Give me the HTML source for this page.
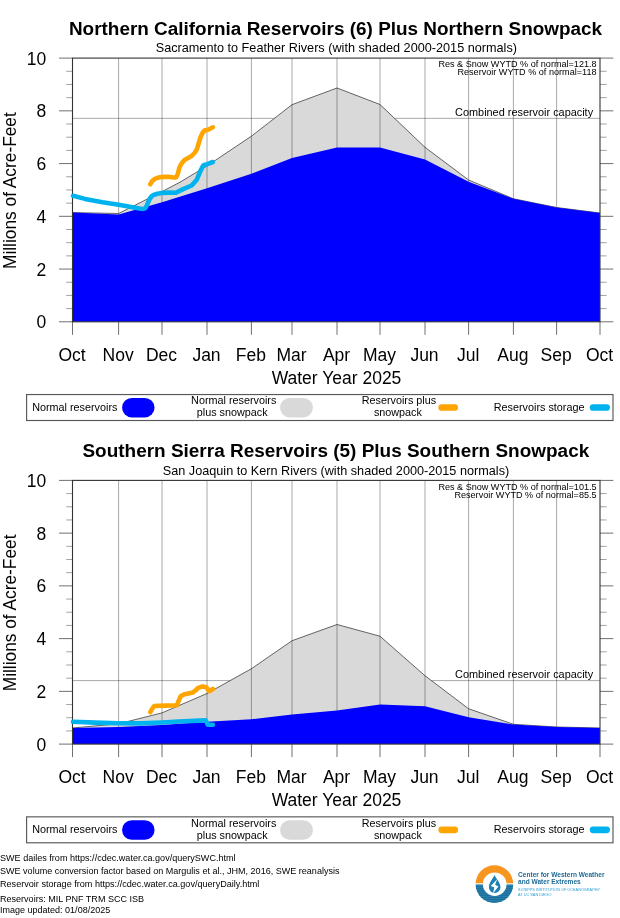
<!DOCTYPE html>
<html><head><meta charset="utf-8"><title>Reservoirs plus snowpack</title>
<style>
html,body{margin:0;padding:0;background:#fff;}
svg{display:block;}
text{font-family:"Liberation Sans",Arial,Helvetica,sans-serif;fill:#000;}
.big{font-size:17.5px;}
.ylab{font-size:18.3px;}
.title{font-size:17.5px;font-weight:bold;}
.sub{font-size:12.6px;}
.ann{font-size:8.8px;}
.cap{font-size:10.9px;}
.lg{font-size:10.8px;}
.ft{font-size:9.1px;}
.lg1{font-size:6.8px;font-weight:bold;fill:#1f6a94;}
.lg2{font-size:3.4px;fill:#2a9cd6;}
.grid{stroke:#000;stroke-opacity:0.34;stroke-width:1;}
.tk{stroke:#707070;stroke-width:1;}
.tkm{stroke:#8c8c8c;stroke-width:0.8;}
.ln{fill:none;stroke-width:4.6;stroke-linecap:round;stroke-linejoin:round;}
</style></head><body>
<svg width="620" height="918" viewBox="0 0 620 918">
<rect width="620" height="918" fill="#fff"/>
<g transform="translate(0,0)">
<line x1="72.5" x2="600.0" y1="118.35" y2="118.35" class="grid"/>
<polygon points="72.50,212.60 118.60,213.50 162.00,191.60 180.00,182.20 207.00,165.90 251.40,136.20 292.00,104.70 337.00,88.00 380.00,104.50 425.00,147.30 468.60,180.00 513.40,198.75 556.60,207.50 600.00,213.00 600.00,321.80 72.50,321.80" fill="#d9d9d9"/>
<polyline points="72.50,212.60 118.60,213.50 162.00,191.60 180.00,182.20 207.00,165.90 251.40,136.20 292.00,104.70 337.00,88.00 380.00,104.50 425.00,147.30 468.60,180.00 513.40,198.75 556.60,207.50 600.00,213.00" fill="none" stroke="#4a4a4a" stroke-width="0.85"/>
<line x1="118.6" x2="118.6" y1="58.1" y2="321.8" class="grid"/>
<line x1="162.0" x2="162.0" y1="58.1" y2="321.8" class="grid"/>
<line x1="207.0" x2="207.0" y1="58.1" y2="321.8" class="grid"/>
<line x1="251.4" x2="251.4" y1="58.1" y2="321.8" class="grid"/>
<line x1="292.0" x2="292.0" y1="58.1" y2="321.8" class="grid"/>
<line x1="337.0" x2="337.0" y1="58.1" y2="321.8" class="grid"/>
<line x1="380.0" x2="380.0" y1="58.1" y2="321.8" class="grid"/>
<line x1="425.0" x2="425.0" y1="58.1" y2="321.8" class="grid"/>
<line x1="468.6" x2="468.6" y1="58.1" y2="321.8" class="grid"/>
<line x1="513.4" x2="513.4" y1="58.1" y2="321.8" class="grid"/>
<line x1="556.6" x2="556.6" y1="58.1" y2="321.8" class="grid"/>
<polygon points="72.50,212.50 118.60,214.50 162.00,202.30 207.00,188.30 251.40,173.75 292.00,158.00 337.00,147.50 380.00,147.50 425.00,159.50 468.60,181.75 513.40,198.75 556.60,207.50 600.00,213.00 600.00,321.80 72.50,321.80" fill="#0000ff"/>
<line x1="59" x2="72.5" y1="321.80" y2="321.80" class="tk"/><line x1="600.0" x2="613.3" y1="321.80" y2="321.80" class="tk"/>
<line x1="66.2" x2="72.5" y1="308.62" y2="308.62" class="tkm"/><line x1="600.0" x2="606.6" y1="308.62" y2="308.62" class="tkm"/>
<line x1="66.2" x2="72.5" y1="295.43" y2="295.43" class="tkm"/><line x1="600.0" x2="606.6" y1="295.43" y2="295.43" class="tkm"/>
<line x1="66.2" x2="72.5" y1="282.25" y2="282.25" class="tkm"/><line x1="600.0" x2="606.6" y1="282.25" y2="282.25" class="tkm"/>
<line x1="59" x2="72.5" y1="269.06" y2="269.06" class="tk"/><line x1="600.0" x2="613.3" y1="269.06" y2="269.06" class="tk"/>
<line x1="66.2" x2="72.5" y1="255.88" y2="255.88" class="tkm"/><line x1="600.0" x2="606.6" y1="255.88" y2="255.88" class="tkm"/>
<line x1="66.2" x2="72.5" y1="242.69" y2="242.69" class="tkm"/><line x1="600.0" x2="606.6" y1="242.69" y2="242.69" class="tkm"/>
<line x1="66.2" x2="72.5" y1="229.51" y2="229.51" class="tkm"/><line x1="600.0" x2="606.6" y1="229.51" y2="229.51" class="tkm"/>
<line x1="59" x2="72.5" y1="216.32" y2="216.32" class="tk"/><line x1="600.0" x2="613.3" y1="216.32" y2="216.32" class="tk"/>
<line x1="66.2" x2="72.5" y1="203.14" y2="203.14" class="tkm"/><line x1="600.0" x2="606.6" y1="203.14" y2="203.14" class="tkm"/>
<line x1="66.2" x2="72.5" y1="189.95" y2="189.95" class="tkm"/><line x1="600.0" x2="606.6" y1="189.95" y2="189.95" class="tkm"/>
<line x1="66.2" x2="72.5" y1="176.77" y2="176.77" class="tkm"/><line x1="600.0" x2="606.6" y1="176.77" y2="176.77" class="tkm"/>
<line x1="59" x2="72.5" y1="163.58" y2="163.58" class="tk"/><line x1="600.0" x2="613.3" y1="163.58" y2="163.58" class="tk"/>
<line x1="66.2" x2="72.5" y1="150.40" y2="150.40" class="tkm"/><line x1="600.0" x2="606.6" y1="150.40" y2="150.40" class="tkm"/>
<line x1="66.2" x2="72.5" y1="137.21" y2="137.21" class="tkm"/><line x1="600.0" x2="606.6" y1="137.21" y2="137.21" class="tkm"/>
<line x1="66.2" x2="72.5" y1="124.03" y2="124.03" class="tkm"/><line x1="600.0" x2="606.6" y1="124.03" y2="124.03" class="tkm"/>
<line x1="59" x2="72.5" y1="110.84" y2="110.84" class="tk"/><line x1="600.0" x2="613.3" y1="110.84" y2="110.84" class="tk"/>
<line x1="66.2" x2="72.5" y1="97.66" y2="97.66" class="tkm"/><line x1="600.0" x2="606.6" y1="97.66" y2="97.66" class="tkm"/>
<line x1="66.2" x2="72.5" y1="84.47" y2="84.47" class="tkm"/><line x1="600.0" x2="606.6" y1="84.47" y2="84.47" class="tkm"/>
<line x1="66.2" x2="72.5" y1="71.29" y2="71.29" class="tkm"/><line x1="600.0" x2="606.6" y1="71.29" y2="71.29" class="tkm"/>
<line x1="59" x2="72.5" y1="58.10" y2="58.10" class="tk"/><line x1="600.0" x2="613.3" y1="58.10" y2="58.10" class="tk"/>
<line x1="72.5" x2="72.5" y1="321.8" y2="334.8" class="tk"/>
<line x1="118.6" x2="118.6" y1="321.8" y2="334.8" class="tk"/>
<line x1="162.0" x2="162.0" y1="321.8" y2="334.8" class="tk"/>
<line x1="207.0" x2="207.0" y1="321.8" y2="334.8" class="tk"/>
<line x1="251.4" x2="251.4" y1="321.8" y2="334.8" class="tk"/>
<line x1="292.0" x2="292.0" y1="321.8" y2="334.8" class="tk"/>
<line x1="337.0" x2="337.0" y1="321.8" y2="334.8" class="tk"/>
<line x1="380.0" x2="380.0" y1="321.8" y2="334.8" class="tk"/>
<line x1="425.0" x2="425.0" y1="321.8" y2="334.8" class="tk"/>
<line x1="468.6" x2="468.6" y1="321.8" y2="334.8" class="tk"/>
<line x1="513.4" x2="513.4" y1="321.8" y2="334.8" class="tk"/>
<line x1="556.6" x2="556.6" y1="321.8" y2="334.8" class="tk"/>
<line x1="600.0" x2="600.0" y1="321.8" y2="334.8" class="tk"/>
<rect x="72.5" y="58.1" width="527.50" height="263.70" fill="none" stroke="#333333" stroke-width="1.1"/>
<polyline points="150.20,184.20 152.30,180.90 155.20,178.60 159.70,177.30 164.00,176.90 168.70,176.70 173.20,177.50 176.00,177.40 177.70,174.30 179.40,167.50 181.50,163.50 184.50,160.00 191.60,156.00 194.50,153.00 196.80,149.50 198.80,143.00 200.60,137.00 202.50,133.00 204.50,130.50 208.00,129.80 212.90,127.30" class="ln" stroke="#ffa500"/>
<polyline points="73.00,195.75 85.00,198.90 102.50,202.30 118.75,204.70 132.60,207.20 139.40,208.50 143.30,209.00 145.50,208.00 147.00,205.00 148.40,201.80 150.00,198.50 151.80,196.10 154.50,194.60 157.40,193.70 162.00,193.00 168.70,192.60 175.50,192.80 178.00,191.70 182.60,189.40 191.60,185.50 196.80,179.70 200.60,170.60 203.20,165.50 207.10,164.20 212.90,162.00" class="ln" stroke="#00b2ee"/>
<text x="46.3" y="328.40" class="big" text-anchor="end">0</text>
<text x="46.3" y="275.66" class="big" text-anchor="end">2</text>
<text x="46.3" y="222.92" class="big" text-anchor="end">4</text>
<text x="46.3" y="170.18" class="big" text-anchor="end">6</text>
<text x="46.3" y="117.44" class="big" text-anchor="end">8</text>
<text x="46.3" y="64.70" class="big" text-anchor="end">10</text>
<text x="72.0" y="361.1" class="big" text-anchor="middle">Oct</text>
<text x="118.1" y="361.1" class="big" text-anchor="middle">Nov</text>
<text x="161.5" y="361.1" class="big" text-anchor="middle">Dec</text>
<text x="206.5" y="361.1" class="big" text-anchor="middle">Jan</text>
<text x="250.9" y="361.1" class="big" text-anchor="middle">Feb</text>
<text x="291.5" y="361.1" class="big" text-anchor="middle">Mar</text>
<text x="336.5" y="361.1" class="big" text-anchor="middle">Apr</text>
<text x="379.5" y="361.1" class="big" text-anchor="middle">May</text>
<text x="424.5" y="361.1" class="big" text-anchor="middle">Jun</text>
<text x="468.1" y="361.1" class="big" text-anchor="middle">Jul</text>
<text x="512.9" y="361.1" class="big" text-anchor="middle">Aug</text>
<text x="556.1" y="361.1" class="big" text-anchor="middle">Sep</text>
<text x="599.5" y="361.1" class="big" text-anchor="middle">Oct</text>
<text x="336.5" y="383.6" class="big" text-anchor="middle">Water Year 2025</text>
<text transform="translate(16.1,190.6) rotate(-90)" class="ylab" text-anchor="middle" textLength="156.8" lengthAdjust="spacingAndGlyphs">Millions of Acre-Feet</text>
<text x="335.55" y="34.9" class="title" text-anchor="middle" textLength="533.2" lengthAdjust="spacingAndGlyphs">Northern California Reservoirs (6) Plus Northern Snowpack</text>
<text x="336.35" y="52.4" class="sub" text-anchor="middle" textLength="361.3" lengthAdjust="spacingAndGlyphs">Sacramento to Feather Rivers (with shaded 2000-2015 normals)</text>
<text x="596.6" y="67.3" class="ann" text-anchor="end" textLength="158.2" lengthAdjust="spacingAndGlyphs">Res &amp; Snow WYTD % of normal=121.8</text>
<text x="596.6" y="75.4" class="ann" text-anchor="end" textLength="139.2" lengthAdjust="spacingAndGlyphs">Reservoir WYTD % of normal=118</text>
<text x="524.1" y="115.8" class="cap" text-anchor="middle" textLength="138" lengthAdjust="spacingAndGlyphs">Combined reservoir capacity</text>
<rect x="26.6" y="394.55" width="586.4" height="25.95" fill="#fff" stroke="#585858" stroke-width="1.15"/>
<text x="32.2" y="411" class="lg">Normal reservoirs</text>
<line x1="131.8" x2="144.8" y1="407.7" y2="407.7" stroke="#0000ff" stroke-width="19.5" stroke-linecap="round"/>
<text x="233.7" y="404.3" class="lg" text-anchor="middle">Normal reservoirs</text>
<text x="232.2" y="416.3" class="lg" text-anchor="middle">plus snowpack</text>
<line x1="289.8" x2="303.2" y1="407.7" y2="407.7" stroke="#d9d9d9" stroke-width="19.5" stroke-linecap="round"/>
<text x="398.9" y="404.3" class="lg" text-anchor="middle">Reservoirs plus</text>
<text x="397.9" y="416.3" class="lg" text-anchor="middle">snowpack</text>
<line x1="441.7" x2="454.7" y1="407.5" y2="407.5" stroke="#ffa500" stroke-width="6.7" stroke-linecap="round"/>
<text x="493.8" y="410.8" class="lg">Reservoirs storage</text>
<line x1="593.1" x2="606.6" y1="407.5" y2="407.5" stroke="#00b2ee" stroke-width="6.7" stroke-linecap="round"/>
</g>
<g transform="translate(0,422.3)">
<line x1="72.5" x2="600.0" y1="258.3" y2="258.3" class="grid"/>
<polygon points="72.50,305.70 118.60,301.50 162.00,290.60 207.00,271.20 251.40,246.45 292.00,218.45 337.00,202.20 380.00,213.95 425.00,253.45 468.60,286.45 513.40,302.00 556.60,304.70 600.00,305.70 600.00,321.80 72.50,321.80" fill="#d9d9d9"/>
<polyline points="72.50,305.70 118.60,301.50 162.00,290.60 207.00,271.20 251.40,246.45 292.00,218.45 337.00,202.20 380.00,213.95 425.00,253.45 468.60,286.45 513.40,302.00 556.60,304.70 600.00,305.70" fill="none" stroke="#4a4a4a" stroke-width="0.85"/>
<line x1="118.6" x2="118.6" y1="58.1" y2="321.8" class="grid"/>
<line x1="162.0" x2="162.0" y1="58.1" y2="321.8" class="grid"/>
<line x1="207.0" x2="207.0" y1="58.1" y2="321.8" class="grid"/>
<line x1="251.4" x2="251.4" y1="58.1" y2="321.8" class="grid"/>
<line x1="292.0" x2="292.0" y1="58.1" y2="321.8" class="grid"/>
<line x1="337.0" x2="337.0" y1="58.1" y2="321.8" class="grid"/>
<line x1="380.0" x2="380.0" y1="58.1" y2="321.8" class="grid"/>
<line x1="425.0" x2="425.0" y1="58.1" y2="321.8" class="grid"/>
<line x1="468.6" x2="468.6" y1="58.1" y2="321.8" class="grid"/>
<line x1="513.4" x2="513.4" y1="58.1" y2="321.8" class="grid"/>
<line x1="556.6" x2="556.6" y1="58.1" y2="321.8" class="grid"/>
<polygon points="72.50,305.70 118.60,304.70 162.00,302.70 207.00,299.45 251.40,296.95 292.00,292.20 337.00,288.20 380.00,282.20 425.00,283.95 468.60,295.00 513.40,302.30 556.60,304.70 600.00,305.70 600.00,321.80 72.50,321.80" fill="#0000ff"/>
<line x1="59" x2="72.5" y1="321.80" y2="321.80" class="tk"/><line x1="600.0" x2="613.3" y1="321.80" y2="321.80" class="tk"/>
<line x1="66.2" x2="72.5" y1="308.62" y2="308.62" class="tkm"/><line x1="600.0" x2="606.6" y1="308.62" y2="308.62" class="tkm"/>
<line x1="66.2" x2="72.5" y1="295.43" y2="295.43" class="tkm"/><line x1="600.0" x2="606.6" y1="295.43" y2="295.43" class="tkm"/>
<line x1="66.2" x2="72.5" y1="282.25" y2="282.25" class="tkm"/><line x1="600.0" x2="606.6" y1="282.25" y2="282.25" class="tkm"/>
<line x1="59" x2="72.5" y1="269.06" y2="269.06" class="tk"/><line x1="600.0" x2="613.3" y1="269.06" y2="269.06" class="tk"/>
<line x1="66.2" x2="72.5" y1="255.88" y2="255.88" class="tkm"/><line x1="600.0" x2="606.6" y1="255.88" y2="255.88" class="tkm"/>
<line x1="66.2" x2="72.5" y1="242.69" y2="242.69" class="tkm"/><line x1="600.0" x2="606.6" y1="242.69" y2="242.69" class="tkm"/>
<line x1="66.2" x2="72.5" y1="229.51" y2="229.51" class="tkm"/><line x1="600.0" x2="606.6" y1="229.51" y2="229.51" class="tkm"/>
<line x1="59" x2="72.5" y1="216.32" y2="216.32" class="tk"/><line x1="600.0" x2="613.3" y1="216.32" y2="216.32" class="tk"/>
<line x1="66.2" x2="72.5" y1="203.14" y2="203.14" class="tkm"/><line x1="600.0" x2="606.6" y1="203.14" y2="203.14" class="tkm"/>
<line x1="66.2" x2="72.5" y1="189.95" y2="189.95" class="tkm"/><line x1="600.0" x2="606.6" y1="189.95" y2="189.95" class="tkm"/>
<line x1="66.2" x2="72.5" y1="176.77" y2="176.77" class="tkm"/><line x1="600.0" x2="606.6" y1="176.77" y2="176.77" class="tkm"/>
<line x1="59" x2="72.5" y1="163.58" y2="163.58" class="tk"/><line x1="600.0" x2="613.3" y1="163.58" y2="163.58" class="tk"/>
<line x1="66.2" x2="72.5" y1="150.40" y2="150.40" class="tkm"/><line x1="600.0" x2="606.6" y1="150.40" y2="150.40" class="tkm"/>
<line x1="66.2" x2="72.5" y1="137.21" y2="137.21" class="tkm"/><line x1="600.0" x2="606.6" y1="137.21" y2="137.21" class="tkm"/>
<line x1="66.2" x2="72.5" y1="124.03" y2="124.03" class="tkm"/><line x1="600.0" x2="606.6" y1="124.03" y2="124.03" class="tkm"/>
<line x1="59" x2="72.5" y1="110.84" y2="110.84" class="tk"/><line x1="600.0" x2="613.3" y1="110.84" y2="110.84" class="tk"/>
<line x1="66.2" x2="72.5" y1="97.66" y2="97.66" class="tkm"/><line x1="600.0" x2="606.6" y1="97.66" y2="97.66" class="tkm"/>
<line x1="66.2" x2="72.5" y1="84.47" y2="84.47" class="tkm"/><line x1="600.0" x2="606.6" y1="84.47" y2="84.47" class="tkm"/>
<line x1="66.2" x2="72.5" y1="71.29" y2="71.29" class="tkm"/><line x1="600.0" x2="606.6" y1="71.29" y2="71.29" class="tkm"/>
<line x1="59" x2="72.5" y1="58.10" y2="58.10" class="tk"/><line x1="600.0" x2="613.3" y1="58.10" y2="58.10" class="tk"/>
<line x1="72.5" x2="72.5" y1="321.8" y2="334.8" class="tk"/>
<line x1="118.6" x2="118.6" y1="321.8" y2="334.8" class="tk"/>
<line x1="162.0" x2="162.0" y1="321.8" y2="334.8" class="tk"/>
<line x1="207.0" x2="207.0" y1="321.8" y2="334.8" class="tk"/>
<line x1="251.4" x2="251.4" y1="321.8" y2="334.8" class="tk"/>
<line x1="292.0" x2="292.0" y1="321.8" y2="334.8" class="tk"/>
<line x1="337.0" x2="337.0" y1="321.8" y2="334.8" class="tk"/>
<line x1="380.0" x2="380.0" y1="321.8" y2="334.8" class="tk"/>
<line x1="425.0" x2="425.0" y1="321.8" y2="334.8" class="tk"/>
<line x1="468.6" x2="468.6" y1="321.8" y2="334.8" class="tk"/>
<line x1="513.4" x2="513.4" y1="321.8" y2="334.8" class="tk"/>
<line x1="556.6" x2="556.6" y1="321.8" y2="334.8" class="tk"/>
<line x1="600.0" x2="600.0" y1="321.8" y2="334.8" class="tk"/>
<rect x="72.5" y="58.1" width="527.50" height="263.70" fill="none" stroke="#333333" stroke-width="1.1"/>
<polyline points="150.30,289.90 152.00,286.70 154.20,283.70 165.00,283.30 176.80,283.00 178.60,278.70 180.60,274.00 183.90,272.10 192.90,270.10 195.50,268.20 198.10,265.60 202.60,264.10 206.50,265.00 207.80,267.20 209.00,268.80 211.00,268.00 212.90,266.70" class="ln" stroke="#ffa500"/>
<polyline points="73.00,299.45 95.00,300.30 118.50,300.90 140.00,301.10 162.00,300.20 178.70,299.20 205.50,298.10 206.60,299.70 207.70,302.40 212.90,302.40" class="ln" stroke="#00b2ee"/>
<text x="46.3" y="328.40" class="big" text-anchor="end">0</text>
<text x="46.3" y="275.66" class="big" text-anchor="end">2</text>
<text x="46.3" y="222.92" class="big" text-anchor="end">4</text>
<text x="46.3" y="170.18" class="big" text-anchor="end">6</text>
<text x="46.3" y="117.44" class="big" text-anchor="end">8</text>
<text x="46.3" y="64.70" class="big" text-anchor="end">10</text>
<text x="72.0" y="361.1" class="big" text-anchor="middle">Oct</text>
<text x="118.1" y="361.1" class="big" text-anchor="middle">Nov</text>
<text x="161.5" y="361.1" class="big" text-anchor="middle">Dec</text>
<text x="206.5" y="361.1" class="big" text-anchor="middle">Jan</text>
<text x="250.9" y="361.1" class="big" text-anchor="middle">Feb</text>
<text x="291.5" y="361.1" class="big" text-anchor="middle">Mar</text>
<text x="336.5" y="361.1" class="big" text-anchor="middle">Apr</text>
<text x="379.5" y="361.1" class="big" text-anchor="middle">May</text>
<text x="424.5" y="361.1" class="big" text-anchor="middle">Jun</text>
<text x="468.1" y="361.1" class="big" text-anchor="middle">Jul</text>
<text x="512.9" y="361.1" class="big" text-anchor="middle">Aug</text>
<text x="556.1" y="361.1" class="big" text-anchor="middle">Sep</text>
<text x="599.5" y="361.1" class="big" text-anchor="middle">Oct</text>
<text x="336.5" y="383.6" class="big" text-anchor="middle">Water Year 2025</text>
<text transform="translate(16.1,190.6) rotate(-90)" class="ylab" text-anchor="middle" textLength="156.8" lengthAdjust="spacingAndGlyphs">Millions of Acre-Feet</text>
<text x="335.85" y="34.9" class="title" text-anchor="middle" textLength="506.8" lengthAdjust="spacingAndGlyphs">Southern Sierra Reservoirs (5) Plus Southern Snowpack</text>
<text x="336.0" y="52.4" class="sub" text-anchor="middle" textLength="346.4" lengthAdjust="spacingAndGlyphs">San Joaquin to Kern Rivers (with shaded 2000-2015 normals)</text>
<text x="596.6" y="67.3" class="ann" text-anchor="end" textLength="158.2" lengthAdjust="spacingAndGlyphs">Res &amp; Snow WYTD % of normal=101.5</text>
<text x="596.6" y="75.4" class="ann" text-anchor="end" textLength="142.2" lengthAdjust="spacingAndGlyphs">Reservoir WYTD % of normal=85.5</text>
<text x="524.1" y="255.99999999999994" class="cap" text-anchor="middle" textLength="138" lengthAdjust="spacingAndGlyphs">Combined reservoir capacity</text>
<rect x="26.6" y="394.55" width="586.4" height="25.95" fill="#fff" stroke="#585858" stroke-width="1.15"/>
<text x="32.2" y="411" class="lg">Normal reservoirs</text>
<line x1="131.8" x2="144.8" y1="407.7" y2="407.7" stroke="#0000ff" stroke-width="19.5" stroke-linecap="round"/>
<text x="233.7" y="404.3" class="lg" text-anchor="middle">Normal reservoirs</text>
<text x="232.2" y="416.3" class="lg" text-anchor="middle">plus snowpack</text>
<line x1="289.8" x2="303.2" y1="407.7" y2="407.7" stroke="#d9d9d9" stroke-width="19.5" stroke-linecap="round"/>
<text x="398.9" y="404.3" class="lg" text-anchor="middle">Reservoirs plus</text>
<text x="397.9" y="416.3" class="lg" text-anchor="middle">snowpack</text>
<line x1="441.7" x2="454.7" y1="407.5" y2="407.5" stroke="#ffa500" stroke-width="6.7" stroke-linecap="round"/>
<text x="493.8" y="410.8" class="lg">Reservoirs storage</text>
<line x1="593.1" x2="606.6" y1="407.5" y2="407.5" stroke="#00b2ee" stroke-width="6.7" stroke-linecap="round"/>
</g>
<text x="0" y="860.9" class="ft" textLength="235.6" lengthAdjust="spacingAndGlyphs">SWE dailes from https://cdec.water.ca.gov/querySWC.html</text>
<text x="0" y="873.8" class="ft" textLength="339.5" lengthAdjust="spacingAndGlyphs">SWE volume conversion factor based on Margulis et al., JHM, 2016, SWE reanalysis</text>
<text x="0" y="886.7" class="ft" textLength="259.4" lengthAdjust="spacingAndGlyphs">Reservoir storage from https://cdec.water.ca.gov/queryDaily.html</text>
<text x="0" y="901.9" class="ft" textLength="144.1" lengthAdjust="spacingAndGlyphs">Reservoirs: MIL PNF TRM SCC ISB</text>
<text x="0" y="913.2" class="ft" textLength="110.2" lengthAdjust="spacingAndGlyphs">Image updated: 01/08/2025</text>
<g>
<defs><clipPath id="lc"><circle cx="494.4" cy="884.1" r="18.8"/></clipPath></defs>
<g clip-path="url(#lc)">
<rect x="475" y="865" width="39" height="18.3" fill="#f7951f"/>
<rect x="475" y="884.4" width="39" height="19.5" fill="#2a84b2"/>
<rect x="475" y="886.20" width="39" height="1" fill="#1b6a94"/>
<rect x="475" y="888.33" width="39" height="1" fill="#1b6a94"/>
<rect x="475" y="890.46" width="39" height="1" fill="#1b6a94"/>
<rect x="475" y="892.59" width="39" height="1" fill="#1b6a94"/>
<rect x="475" y="894.72" width="39" height="1" fill="#1b6a94"/>
<rect x="475" y="896.85" width="39" height="1" fill="#1b6a94"/>
<rect x="475" y="898.98" width="39" height="1" fill="#1b6a94"/>
<rect x="475" y="901.11" width="39" height="1" fill="#1b6a94"/>
</g>
<circle cx="494.7" cy="884.2" r="11.8" fill="#ffffff"/>
<path d="M494.5 874.9 C495.6 878 500.5 882.4 500.5 887 C500.5 890.3 497.9 892.9 494.7 892.9 C491.5 892.9 488.9 890.3 488.9 887 C488.9 882.4 493.4 878 494.5 874.9 Z" fill="#1f80b5"/>
<path d="M497.2 879.2 L490.8 886.1 L494.3 887.4 L493 893.4 L498.4 886.4 L495.1 884.7 Z" fill="#ffffff"/>
<text x="518.1" y="877.2" class="lg1" textLength="86.4" lengthAdjust="spacingAndGlyphs">Center for Western Weather</text>
<text x="518.1" y="884.2" class="lg1" textLength="62.6" lengthAdjust="spacingAndGlyphs">and Water Extremes</text>
<text x="518.1" y="891.1" class="lg2" textLength="81.9" lengthAdjust="spacingAndGlyphs">SCRIPPS INSTITUTION OF OCEANOGRAPHY</text>
<text x="518.1" y="895.5" class="lg2" textLength="33.5" lengthAdjust="spacingAndGlyphs">AT UC SAN DIEGO</text>
</g>
</svg>
</body></html>
